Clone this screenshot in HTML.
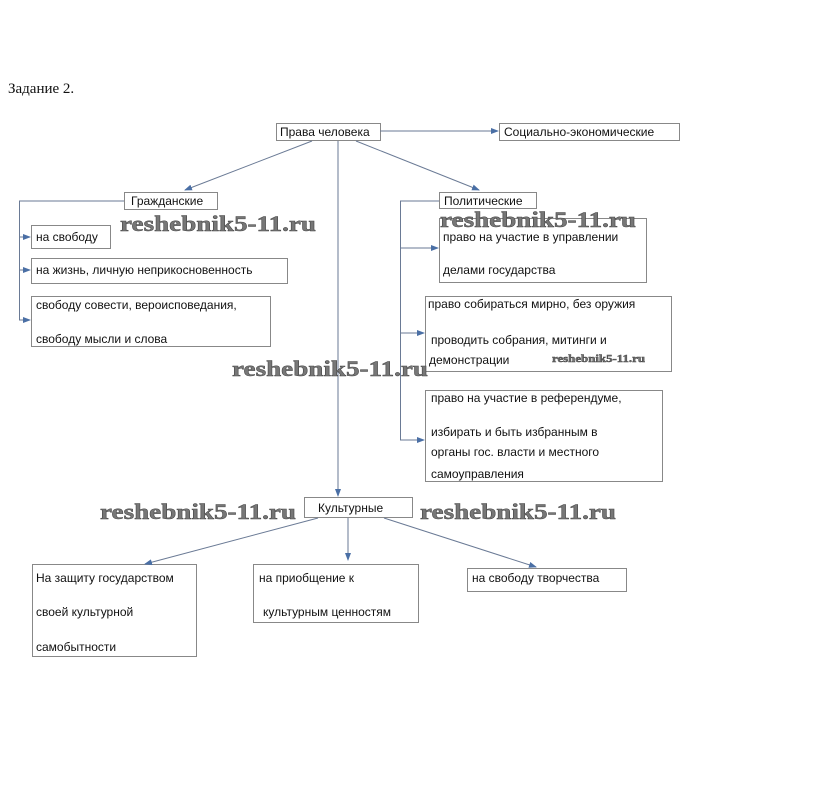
<!DOCTYPE html>
<html><head><meta charset="utf-8"><style>
html,body{margin:0;padding:0;background:#fff;width:813px;height:793px;overflow:hidden}
svg text{font-family:"Liberation Sans","DejaVu Sans",sans-serif;font-size:12px;fill:#111}
.wm{font-family:"Liberation Serif",serif;font-weight:bold;font-size:22px;fill:#777;stroke:#444;stroke-width:.5}
</style></head><body>
<svg width="813" height="793" xmlns="http://www.w3.org/2000/svg">
<defs><marker id="a" markerWidth="8" markerHeight="6" refX="7" refY="3" orient="auto" markerUnits="userSpaceOnUse"><path d="M0,0L8,3L0,6z" fill="#4a6fa5"/></marker></defs>
<text x="8" y="93" style="font-family:'Liberation Serif',serif;font-size:15px">Задание 2.</text>
<g fill="none" stroke="#888" stroke-width="1">
<rect x="276.5" y="123.5" width="104" height="17"/>
<rect x="499.5" y="123.5" width="180" height="17"/>
<rect x="124.5" y="192.5" width="93" height="17"/>
<rect x="439.5" y="192.5" width="97" height="16"/>
<rect x="31.5" y="225.5" width="79" height="23"/>
<rect x="31.5" y="258.5" width="256" height="25"/>
<rect x="31.5" y="296.5" width="239" height="50"/>
<rect x="439.5" y="218.5" width="207" height="64"/>
<rect x="425.5" y="296.5" width="246" height="75"/>
<rect x="425.5" y="390.5" width="237" height="91"/>
<rect x="304.5" y="497.5" width="108" height="20"/>
<rect x="32.5" y="564.5" width="164" height="92"/>
<rect x="253.5" y="564.5" width="165" height="58"/>
<rect x="467.5" y="568.5" width="159" height="23"/>
</g>
<g fill="none" stroke="#6a7a95" stroke-width="1">
<line x1="380" y1="131" x2="498" y2="131" marker-end="url(#a)"/>
<line x1="312" y1="141" x2="185" y2="190" marker-end="url(#a)"/>
<line x1="356" y1="141" x2="479" y2="190" marker-end="url(#a)"/>
<line x1="338" y1="141" x2="338" y2="496" marker-end="url(#a)"/>
<polyline points="124,201 19.5,201 19.5,320"/>
<line x1="19" y1="237" x2="30" y2="237" marker-end="url(#a)"/>
<line x1="19" y1="270" x2="30" y2="270" marker-end="url(#a)"/>
<line x1="19" y1="320" x2="30" y2="320" marker-end="url(#a)"/>
<polyline points="439,201 400.5,201 400.5,440"/>
<line x1="400" y1="248" x2="438" y2="248" marker-end="url(#a)"/>
<line x1="400" y1="333" x2="424" y2="333" marker-end="url(#a)"/>
<line x1="400" y1="440" x2="424" y2="440" marker-end="url(#a)"/>
<line x1="318" y1="518" x2="145" y2="564" marker-end="url(#a)"/>
<line x1="348" y1="518" x2="348" y2="560" marker-end="url(#a)"/>
<line x1="384" y1="518" x2="536" y2="567" marker-end="url(#a)"/>
</g>
<text x="280" y="136">Права человека</text>
<text x="504" y="136">Социально-экономические</text>
<text x="131" y="205">Гражданские</text>
<text x="444" y="205">Политические</text>
<text x="36" y="241">на свободу</text>
<text x="36" y="274">на жизнь, личную неприкосновенность</text>
<text x="36" y="309">свободу совести, вероисповедания,</text>
<text x="36" y="343">свободу мысли и слова</text>
<text x="443" y="241">право на участие в управлении</text>
<text x="443" y="274">делами государства</text>
<text x="428" y="308">право собираться  мирно, без оружия</text>
<text x="431" y="344">проводить собрания, митинги и</text>
<text x="429" y="364">демонстрации</text>
<text x="431" y="402">право на участие в референдуме,</text>
<text x="431" y="436">избирать и быть избранным в</text>
<text x="431" y="456">органы гос. власти и местного</text>
<text x="431" y="478">самоуправления</text>
<text x="318" y="512">Культурные</text>
<text x="36" y="582">На защиту  государством</text>
<text x="36" y="616">своей культурной</text>
<text x="36" y="651">самобытности</text>
<text x="259" y="582">на приобщение  к</text>
<text x="263" y="616">культурным ценностям</text>
<text x="472" y="582">на свободу  творчества</text>
<text class="wm" x="120" y="231" textLength="196" lengthAdjust="spacingAndGlyphs">reshebnik5-11.ru</text>
<text class="wm" x="440" y="227" textLength="196" lengthAdjust="spacingAndGlyphs">reshebnik5-11.ru</text>
<text class="wm" x="232" y="376" textLength="196" lengthAdjust="spacingAndGlyphs">reshebnik5-11.ru</text>
<text class="wm" x="100" y="519" textLength="196" lengthAdjust="spacingAndGlyphs">reshebnik5-11.ru</text>
<text class="wm" x="420" y="519" textLength="196" lengthAdjust="spacingAndGlyphs">reshebnik5-11.ru</text>
<text class="wm" x="552" y="362" style="font-size:11px" textLength="93" lengthAdjust="spacingAndGlyphs">reshebnik5-11.ru</text>
</svg>
</body></html>
